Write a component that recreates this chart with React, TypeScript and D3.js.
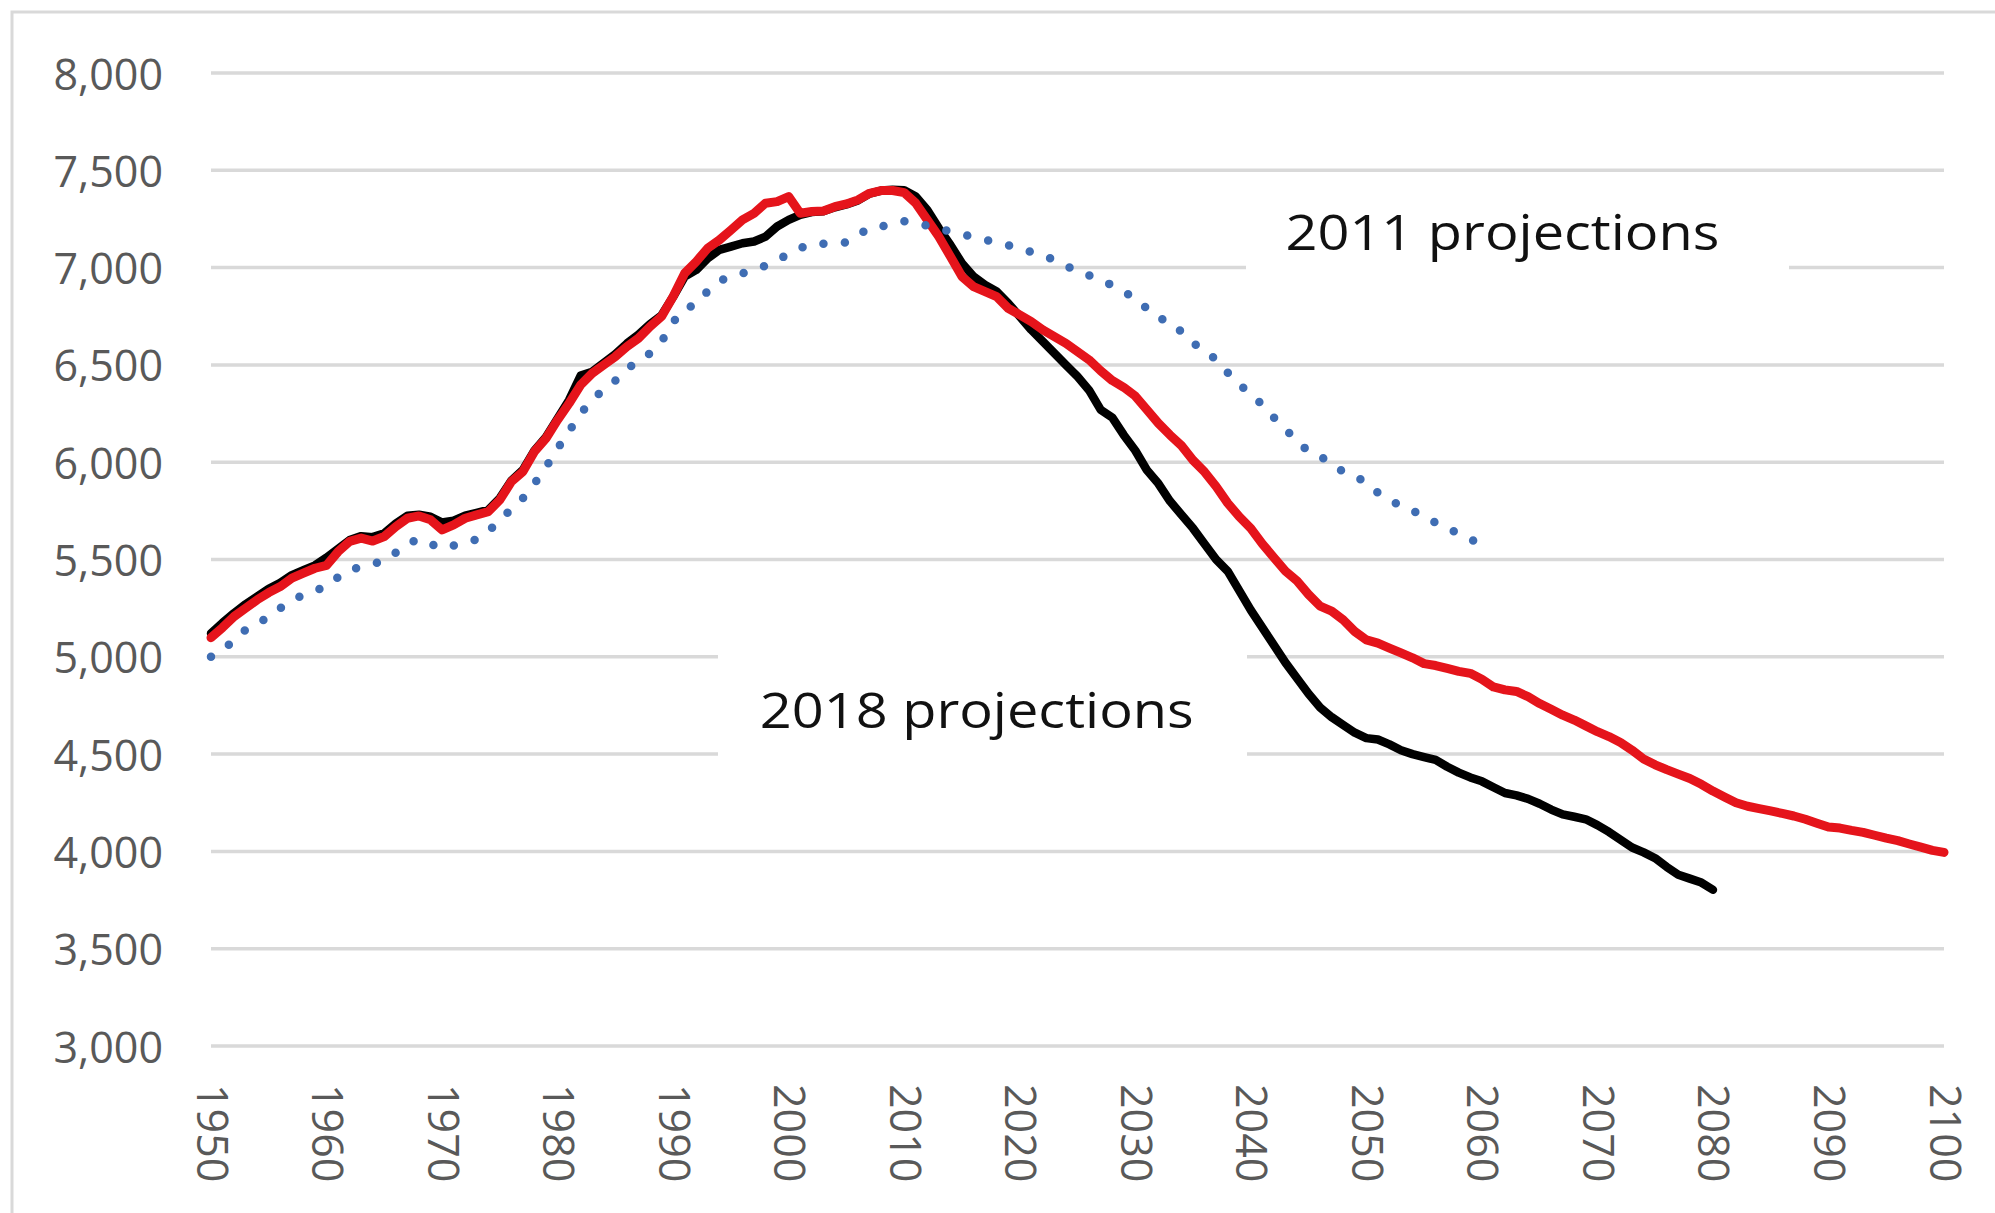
import { useEffect, useRef } from 'react';
import * as d3 from 'd3';

// annual values, first year = 1950
const firstYear = 1950;

// black line, 1950-2080
const series2018 = [
  5120, 5175, 5225, 5270, 5310, 5350, 5380, 5420, 5445, 5470,
  5510, 5555, 5600, 5620, 5615, 5635, 5685, 5725, 5730, 5720,
  5690, 5700, 5725, 5740, 5755, 5815, 5905, 5960, 6060, 6130,
  6225, 6320, 6445, 6465, 6510, 6555, 6610, 6655, 6710, 6755,
  6850, 6954, 6988, 7048, 7091, 7108, 7125, 7134, 7159, 7211,
  7245, 7271, 7285, 7290, 7310, 7325, 7345, 7380, 7396, 7400,
  7398, 7365, 7296, 7202, 7116, 7022, 6954, 6911, 6877, 6817,
  6749, 6680, 6620, 6560, 6500, 6440, 6370, 6270, 6230, 6140,
  6060, 5960, 5890, 5800, 5730, 5660, 5580, 5500, 5440, 5340,
  5240, 5150, 5060, 4970, 4890, 4810, 4740, 4690, 4650, 4610,
  4582, 4575, 4550, 4520, 4500, 4485, 4470, 4435, 4405, 4380,
  4360, 4330, 4300, 4288, 4270, 4245, 4215, 4190, 4178, 4165,
  4135, 4100, 4060, 4020, 3995, 3965, 3920, 3880, 3860, 3840,
  3803,
];

// red line, 1950-2100
const series2018Alt = [
  5098, 5150, 5207, 5250, 5293, 5330, 5361, 5404, 5430, 5455,
  5470, 5540, 5593, 5610, 5595, 5618, 5669, 5712, 5724, 5704,
  5652, 5678, 5712, 5729, 5746, 5806, 5900, 5952, 6055, 6123,
  6217, 6303, 6397, 6457, 6500, 6543, 6594, 6637, 6697, 6749,
  6851, 6971, 7031, 7100, 7142, 7193, 7245, 7279, 7331, 7339,
  7365, 7279, 7288, 7291, 7313, 7327, 7348, 7382, 7396, 7396,
  7385, 7331, 7245, 7159, 7057, 6954, 6902, 6877, 6851, 6791,
  6757, 6722, 6680, 6645, 6611, 6568, 6526, 6470, 6420, 6385,
  6340, 6270, 6200, 6140, 6085, 6010, 5950, 5875, 5790, 5720,
  5660, 5580, 5510, 5440, 5390, 5320, 5260, 5235, 5190, 5130,
  5087, 5070, 5045, 5020, 4995, 4965, 4955, 4940, 4925, 4915,
  4885, 4845, 4830, 4822, 4795, 4760, 4730, 4700, 4675, 4645,
  4615, 4590, 4560, 4520, 4475, 4445, 4420, 4397, 4375, 4345,
  4310, 4280, 4250, 4232, 4220, 4208, 4195, 4182, 4165, 4145,
  4125, 4120, 4108, 4098, 4083, 4068, 4055, 4038, 4022, 4005,
  3995,
];

// blue dotted line, 1950-2060
const series2011 = [
  5000, 5040, 5080, 5140, 5175, 5202, 5250, 5290, 5318, 5340,
  5361, 5410, 5450, 5460, 5478, 5493, 5535, 5580, 5605, 5580,
  5556, 5572, 5590, 5603, 5645, 5700, 5760, 5815, 5890, 5975,
  6070, 6160, 6250, 6320, 6375, 6420, 6480, 6520, 6560, 6620,
  6720, 6790, 6810, 6880, 6930, 6956, 6970, 6990, 7010, 7040,
  7068, 7100, 7122, 7122, 7123, 7130, 7165, 7205, 7212, 7220,
  7238, 7230, 7215, 7200, 7185, 7172, 7156, 7142, 7130, 7115,
  7100, 7080, 7060, 7040, 7010, 6980, 6960, 6935, 6910, 6875,
  6845, 6790, 6740, 6725, 6670, 6610, 6580, 6525, 6460, 6400,
  6350, 6295, 6230, 6170, 6110, 6055, 6030, 5995, 5950, 5930,
  5895, 5843, 5810, 5772, 5752, 5720, 5690, 5660, 5634, 5605,
  5575,
];

const xTickYears = [1950, 1960, 1970, 1980, 1990, 2000, 2010, 2020, 2030, 2040, 2050, 2060, 2070, 2080, 2090, 2100];
const yTickValues = [3000, 3500, 4000, 4500, 5000, 5500, 6000, 6500, 7000, 7500, 8000];

// text anchored at (year, value) of its baseline start
const labels = [
  { text: '2011 projections', year: 2043, value: 7090 },
  { text: '2018 projections', year: 1997.5, value: 4635 },
];

export default function App() {
  const svgRef = useRef<SVGSVGElement>(null);

  useEffect(() => {
    if (!svgRef.current) return;
    const svg = d3.select(svgRef.current);
    svg.selectAll('*').remove();

    const width = 1995;
    const height = 1213;
    const font = '"Open Sans", "DejaVu Sans", sans-serif';

    const x = d3.scaleLinear().domain([1950, 2100]).range([211, 1944]);
    const y = d3.scaleLinear().domain([3000, 8000]).range([1046, 73]);

    svg.append('rect').attr('width', width).attr('height', height).attr('fill', '#fff');

    // chart border (right/bottom edges fall outside the picture)
    svg
      .append('rect')
      .attr('x', 12)
      .attr('y', 12)
      .attr('width', width + 50)
      .attr('height', height + 50)
      .attr('fill', 'none')
      .attr('stroke', '#d9d9d9')
      .attr('stroke-width', 3);

    // gridlines
    svg
      .append('g')
      .selectAll('line')
      .data(yTickValues)
      .enter()
      .append('line')
      .attr('x1', x(1950))
      .attr('x2', x(2100))
      .attr('y1', (d) => y(d))
      .attr('y2', (d) => y(d))
      .attr('stroke', '#d9d9d9')
      .attr('stroke-width', 3.5);

    // white boxes behind the annotations
    svg
      .append('rect')
      .attr('x', 1246)
      .attr('y', 205)
      .attr('width', 543)
      .attr('height', 95)
      .attr('fill', '#fff');
    svg
      .append('rect')
      .attr('x', 718)
      .attr('y', 640)
      .attr('width', 529)
      .attr('height', 130)
      .attr('fill', '#fff');

    const line = d3
      .line<number>()
      .x((_, i) => x(firstYear + i))
      .y((d) => y(d));

    svg
      .append('path')
      .datum(series2018)
      .attr('fill', 'none')
      .attr('stroke', '#000')
      .attr('stroke-width', 8.5)
      .attr('stroke-linejoin', 'round')
      .attr('stroke-linecap', 'round')
      .attr('d', line);

    svg
      .append('path')
      .datum(series2018Alt)
      .attr('fill', 'none')
      .attr('stroke', '#e5141b')
      .attr('stroke-width', 9)
      .attr('stroke-linejoin', 'round')
      .attr('stroke-linecap', 'round')
      .attr('d', line);

    svg
      .append('path')
      .datum(series2011)
      .attr('fill', 'none')
      .attr('stroke', '#3f6db3')
      .attr('stroke-width', 8.5)
      .attr('stroke-dasharray', '0 21.5')
      .attr('stroke-linecap', 'round')
      .attr('d', line);

    // annotations
    labels.forEach((l) => {
      svg
        .append('text')
        .attr('x', x(l.year))
        .attr('y', y(l.value))
        .attr('textLength', 434)
        .attr('lengthAdjust', 'spacingAndGlyphs')
        .style('font-family', font)
        .style('font-size', '50px')
        .style('fill', '#111')
        .text(l.text);
    });

    // y axis labels
    svg
      .append('g')
      .selectAll('text')
      .data(yTickValues)
      .enter()
      .append('text')
      .attr('x', 163)
      .attr('y', (d) => y(d))
      .attr('text-anchor', 'end')
      .attr('dominant-baseline', 'central')
      .style('font-family', font)
      .style('font-size', '43px')
      .style('fill', '#595959')
      .text((d) => d3.format(',')(d));

    // x axis labels, rotated
    svg
      .append('g')
      .selectAll('text')
      .data(xTickYears)
      .enter()
      .append('text')
      .attr('transform', (d) => `translate(${x(d) + 2},1084) rotate(90)`)
      .attr('text-anchor', 'start')
      .attr('dominant-baseline', 'central')
      .style('font-family', font)
      .style('font-size', '43px')
      .style('fill', '#595959')
      .text((d) => String(d));
  }, []);

  return (
    <svg
      ref={svgRef}
      width={1995}
      height={1213}
      style={{ position: 'absolute', left: 0, top: 0, display: 'block' }}
    ></svg>
  );
}
